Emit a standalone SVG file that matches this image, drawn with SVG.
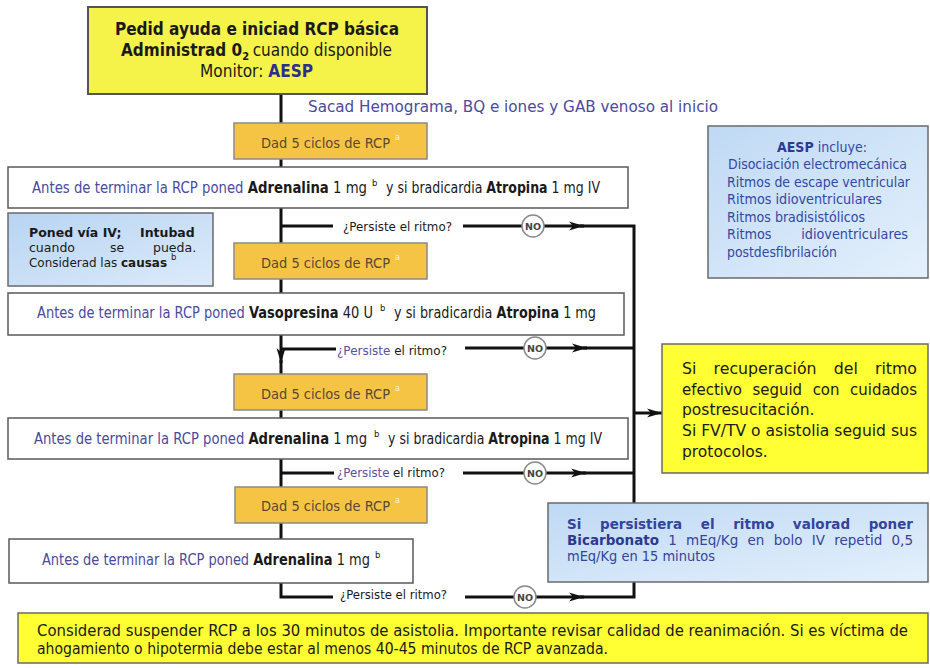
<svg xmlns="http://www.w3.org/2000/svg" width="930" height="668" viewBox="0 0 930 668">
  <defs>
    <linearGradient id="blueFill" x1="0" y1="0" x2="1" y2="1">
      <stop offset="0" stop-color="#b8d4f2"/>
      <stop offset="1" stop-color="#dcebfb"/>
    </linearGradient>
    <linearGradient id="blueFill2" x1="0" y1="0" x2="1" y2="1">
      <stop offset="0" stop-color="#bfd9f4"/>
      <stop offset="1" stop-color="#e4f0fc"/>
    </linearGradient>
    <marker id="arrow" viewBox="0 0 16 10" refX="15" refY="5" markerWidth="16" markerHeight="10" markerUnits="userSpaceOnUse" orient="auto">
      <path d="M0,0.5 L15,5 L0,9.5 L4,5 Z" fill="#111"/>
    </marker>
  </defs>
  <style>
    text { font-family: "DejaVu Sans", Verdana, sans-serif; fill: #1a1a1a; }
    .b { font-weight: bold; }
    .pb { fill: #4b4a9c; }
    .navy { fill: #2a2f8f; }
    .box { stroke: #5a5a5a; stroke-width: 1.5; }
    .white { fill: #ffffff; }
    .orange { fill: #f6c445; stroke: #8a8a8a; stroke-width: 1.5; }
    .yellow { fill: #ffff33; stroke: #6a6a6a; stroke-width: 1.5; }
    .blue { fill: url(#blueFill); stroke: #6a6a6a; stroke-width: 1.5; }
    .blue2 { fill: url(#blueFill2); stroke: #6a6a6a; stroke-width: 1.5; }
    .t15 { font-size: 15px; }
    .step { font-size: 14px; fill: #5a4636; }
    .supa { font-size: 8px; fill: #fff1cf; }
    .sup { font-size: 8.5px; }
    .q { font-size: 13px; }
    .wire { fill: none; stroke: #111; stroke-width: 3; }
    .arr { marker-end: url(#arrow); }
    .no circle { fill: #ffffff; stroke: #8a8a8a; stroke-width: 1.5; }
    .no text { font-size: 9.5px; font-weight: bold; fill: #444; text-anchor: middle; }
    .aesp { font-size: 14px; fill: #3148a6; }
    .bic { font-size: 13.5px; fill: #34439c; }
    .note { font-size: 15.5px; }
  </style>

  <!-- connectors -->
  <g id="connectors">
    <!-- main spine -->
    <path class="wire" d="M281,94 V123"/>
    <path class="wire" d="M281,159 V167"/>
    <path class="wire" d="M281,208 V243"/>
    <path class="wire" d="M281,279 V293"/>
    <path class="wire arr" d="M281,335 V363"/>
    <path class="wire" d="M281,360 V374"/>
    <path class="wire" d="M281,410 V418"/>
    <path class="wire" d="M281,459 V487"/>
    <path class="wire" d="M281,523 V539"/>
    <path class="wire" d="M281,583 V597 H333"/>
    <!-- question branches -->
    <path class="wire" d="M281,226 H333"/>
    <path class="wire" d="M281,349 H336"/>
    <path class="wire" d="M281,473 H334"/>
    <!-- NO exits to the right-hand bus -->
    <path class="wire" d="M463,226 H522"/>
    <path class="wire arr" d="M544,226 H584"/>
    <path class="wire" d="M580,226 H634 V503"/>
    <path class="wire" d="M465,348 H524"/>
    <path class="wire arr" d="M546,348 H587"/>
    <path class="wire" d="M583,348 H634"/>
    <path class="wire" d="M463,473 H524"/>
    <path class="wire arr" d="M546,473 H586"/>
    <path class="wire" d="M582,473 H634"/>
    <path class="wire" d="M465,597 H514"/>
    <path class="wire arr" d="M536,597 H584"/>
    <path class="wire" d="M580,597 H634 V582"/>
    <path class="wire arr" d="M634,413 H662"/>
    <!-- question labels -->
    <text class="q" x="343" y="231" textLength="109" lengthAdjust="spacingAndGlyphs">¿Persiste el ritmo?</text>
    <text class="q" x="337" y="355" textLength="110" lengthAdjust="spacingAndGlyphs"><tspan fill="#5a4fa0">¿Persiste</tspan> el ritmo?</text>
    <text class="q" x="337" y="477" textLength="108" lengthAdjust="spacingAndGlyphs"><tspan fill="#5a4fa0">¿Persiste</tspan> el ritmo?</text>
    <text class="q" x="340" y="599" textLength="107" lengthAdjust="spacingAndGlyphs">¿Persiste el ritmo?</text>
    <!-- NO badges -->
    <g class="no"><circle cx="533" cy="226" r="11"/><text x="533" y="229.5">NO</text></g>
    <g class="no"><circle cx="535" cy="348" r="11"/><text x="535" y="351.5">NO</text></g>
    <g class="no"><circle cx="535" cy="473" r="11"/><text x="535" y="476.5">NO</text></g>
    <g class="no"><circle cx="525" cy="597" r="11"/><text x="525" y="600.5">NO</text></g>
  </g>

  <!-- start -->
  <g id="start">
    <rect x="88" y="7" width="339" height="87" fill="#f5f24a" stroke="#555" stroke-width="2"/>
    <text class="b" x="115" y="35" font-size="17" textLength="284" lengthAdjust="spacingAndGlyphs">Pedid ayuda e iniciad RCP básica</text>
    <text x="121" y="56" font-size="17" textLength="271" lengthAdjust="spacingAndGlyphs"><tspan class="b">Administrad 0</tspan><tspan class="b" font-size="11" dy="4">2</tspan><tspan dy="-4" dx="4">cuando disponible</tspan></text>
    <text x="200" y="77" font-size="17" textLength="113" lengthAdjust="spacingAndGlyphs">Monitor: <tspan class="b navy">AESP</tspan></text>
  </g>

  <g id="labs">
    <text class="pb" x="308" y="112" font-size="16" textLength="410" lengthAdjust="spacingAndGlyphs">Sacad Hemograma, BQ e iones y GAB venoso al inicio</text>
  </g>

  <!-- RCP cycles and drug steps -->
  <g id="cycle1">
    <rect class="orange" x="234" y="123" width="193" height="36"/>
    <text class="step" x="261" y="148" textLength="129" lengthAdjust="spacingAndGlyphs">Dad 5 ciclos de RCP</text>
    <text class="supa" x="395" y="140">a</text>
  </g>
  <g id="dose1">
    <rect class="box white" x="8" y="167" width="620" height="41"/>
    <text class="t15" x="32" y="193" textLength="335" lengthAdjust="spacingAndGlyphs"><tspan class="pb">Antes de terminar la RCP poned </tspan><tspan class="b">Adrenalina</tspan> 1 mg</text>
    <text class="sup" x="372" y="186">b</text>
    <text class="t15" x="386" y="193" textLength="214" lengthAdjust="spacingAndGlyphs">y si bradicardia <tspan class="b">Atropina</tspan> 1 mg IV</text>
  </g>
  <g id="iv-note">
    <rect class="blue" x="8" y="213" width="205" height="73"/>
    <text font-size="12.5" y="237"><tspan class="b" x="29">Poned vía IV;</tspan><tspan class="b" x="140">Intubad</tspan></text>
    <text font-size="12.5" y="252"><tspan x="29">cuando</tspan><tspan x="110">se</tspan><tspan x="153">pueda.</tspan></text>
    <text font-size="12.5" x="29" y="267" textLength="138" lengthAdjust="spacingAndGlyphs">Considerad las <tspan class="b">causas</tspan></text>
    <text class="sup" x="171" y="260">b</text>
  </g>
  <g id="cycle2">
    <rect class="orange" x="234" y="243" width="193" height="36"/>
    <text class="step" x="261" y="268" textLength="129" lengthAdjust="spacingAndGlyphs">Dad 5 ciclos de RCP</text>
    <text class="supa" x="395" y="260">a</text>
  </g>
  <g id="dose2">
    <rect class="box white" x="8" y="293" width="616" height="42"/>
    <text class="t15" x="37" y="318" textLength="336" lengthAdjust="spacingAndGlyphs"><tspan class="pb">Antes de terminar la RCP poned </tspan><tspan class="b">Vasopresina</tspan> 40 U</text>
    <text class="sup" x="380" y="311">b</text>
    <text class="t15" x="394" y="318" textLength="202" lengthAdjust="spacingAndGlyphs">y  si bradicardia <tspan class="b">Atropina</tspan> 1 mg</text>
  </g>
  <g id="cycle3">
    <rect class="orange" x="234" y="374" width="193" height="36"/>
    <text class="step" x="261" y="399" textLength="129" lengthAdjust="spacingAndGlyphs">Dad 5 ciclos de RCP</text>
    <text class="supa" x="395" y="391">a</text>
  </g>
  <g id="dose3">
    <rect class="box white" x="8" y="418" width="620" height="41"/>
    <text class="t15" x="34" y="444" textLength="333" lengthAdjust="spacingAndGlyphs"><tspan class="pb">Antes de terminar la RCP poned </tspan><tspan class="b">Adrenalina</tspan> 1 mg</text>
    <text class="sup" x="374" y="437">b</text>
    <text class="t15" x="388" y="444" textLength="214" lengthAdjust="spacingAndGlyphs">y si bradicardia <tspan class="b">Atropina</tspan> 1 mg IV</text>
  </g>
  <g id="cycle4">
    <rect class="orange" x="235" y="487" width="192" height="36"/>
    <text class="step" x="261" y="511" textLength="129" lengthAdjust="spacingAndGlyphs">Dad 5 ciclos de RCP</text>
    <text class="supa" x="395" y="503">a</text>
  </g>
  <g id="dose4">
    <rect class="box white" x="9" y="539" width="404" height="44"/>
    <text class="t15" x="42" y="565" textLength="328" lengthAdjust="spacingAndGlyphs"><tspan class="pb">Antes de terminar la RCP poned </tspan><tspan class="b">Adrenalina</tspan> 1 mg</text>
    <text class="sup" x="375" y="558">b</text>
  </g>

  <!-- side notes -->
  <g id="aesp-types">
    <rect class="blue2" x="708" y="126" width="220" height="152"/>
    <text class="aesp" x="777" y="152" textLength="90" lengthAdjust="spacingAndGlyphs"><tspan class="b" fill="#2d3a92">AESP</tspan> incluye:</text>
    <text class="aesp" x="728" y="169" textLength="179" lengthAdjust="spacingAndGlyphs">Disociación electromecánica</text>
    <text class="aesp" x="727" y="187" textLength="183" lengthAdjust="spacingAndGlyphs">Ritmos de escape ventricular</text>
    <text class="aesp" x="727" y="204" textLength="155" lengthAdjust="spacingAndGlyphs">Ritmos idioventriculares</text>
    <text class="aesp" x="727" y="222" textLength="138" lengthAdjust="spacingAndGlyphs">Ritmos bradisistólicos</text>
    <text class="aesp" x="727" y="239" word-spacing="28" textLength="181" lengthAdjust="spacingAndGlyphs">Ritmos idioventriculares</text>
    <text class="aesp" x="727" y="257" textLength="110" lengthAdjust="spacingAndGlyphs">postdesfibrilación</text>
  </g>
  <g id="outcome">
    <rect class="yellow" x="662" y="344" width="266" height="129"/>
    <text class="note" x="682" y="374" word-spacing="12" textLength="235" lengthAdjust="spacingAndGlyphs">Si recuperación del ritmo</text>
    <text class="note" x="682" y="395" word-spacing="6" textLength="235" lengthAdjust="spacingAndGlyphs">efectivo seguid con cuidados</text>
    <text class="note" x="682" y="415">postresucitación.</text>
    <text class="note" x="682" y="436" textLength="235" lengthAdjust="spacingAndGlyphs">Si FV/TV o asistolia seguid sus</text>
    <text class="note" x="682" y="457">protocolos.</text>
  </g>
  <g id="bicarbonate">
    <rect class="blue2" x="548" y="503" width="380" height="79"/>
    <text class="bic b" font-size="13" x="567" y="529" fill="#2d3990" word-spacing="14" textLength="346" lengthAdjust="spacingAndGlyphs">Si persistiera el ritmo valorad poner</text>
    <text class="bic" x="567" y="545" word-spacing="5" textLength="346" lengthAdjust="spacingAndGlyphs"><tspan class="b" fill="#2d3990">Bicarbonato</tspan> 1 mEq/Kg en bolo IV repetid 0,5</text>
    <text class="bic" x="567" y="561" textLength="148" lengthAdjust="spacingAndGlyphs">mEq/Kg en 15 minutos</text>
  </g>
  <g id="time-limit">
    <rect class="yellow" x="18" y="613" width="910" height="50"/>
    <text class="t15" x="37" y="636" textLength="871" lengthAdjust="spacingAndGlyphs">Considerad suspender RCP a los 30 minutos de asistolia. Importante revisar calidad de reanimación. Si es víctima de</text>
    <text class="t15" x="37" y="654" textLength="571" lengthAdjust="spacingAndGlyphs">ahogamiento o hipotermia debe estar al menos 40-45 minutos de RCP avanzada.</text>
  </g>
</svg>
